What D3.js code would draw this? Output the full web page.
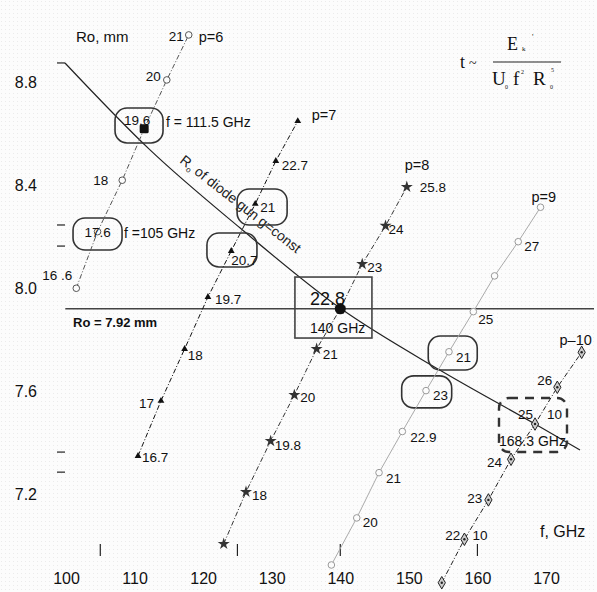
<!DOCTYPE html>
<html><head><meta charset="utf-8">
<script src="https://cdn.jsdelivr.net/npm/d3@7"></script>
<style>body{margin:0;background:#fff}svg{display:block}</style>
</head><body><svg id="c" width="597" height="592"></svg>
<script>
// ---------------- data ----------------
const xTicks = [100, 110, 120, 130, 140, 150, 160, 170];
const yTicks = [7.2, 7.6, 8.0, 8.4, 8.8];

const p6F = [101.5, 104.6, 108.2, 111.4, 114.7, 117.9];
const p6R = [8.00, 8.22, 8.42, 8.62, 8.81, 8.985];
const p6Lab = ["16 .6", "17.6", "18", "19.6", "20", "21"];

const p7F = [110.5, 113.85, 117.3, 120.7, 124.1, 127.6, 130.6, 133.8];
const p7R = [7.348, 7.562, 7.764, 7.966, 8.145, 8.328, 8.495, 8.65];
const p7Lab = ["16.7", "17", "18", "19.7", "20.7", "21", "22.7", ""];

const p8F = [123.0, 126.25, 129.85, 133.3, 136.55, 140.0, 143.2, 146.6, 149.7];
const p8R = [7.006, 7.208, 7.406, 7.585, 7.764, 7.92, 8.094, 8.243, 8.394];
const p8Lab = ["", "18", "19.8", "20", "21", "", "23", "24", "25.8"];

const p9F = [138.7, 142.4, 145.65, 149.05, 152.5, 155.85, 159.4, 162.5, 165.95, 169.2];
const p9R = [6.924, 7.107, 7.283, 7.443, 7.602, 7.753, 7.909, 8.048, 8.181, 8.315];
const p9Lab = ["", "20", "21", "22.9", "23", "21", "25", "", "27", ""];

const p10F = [154.8, 158.1, 161.6, 164.9, 168.4, 171.65, 175.2];
const p10R = [6.855, 7.024, 7.177, 7.335, 7.472, 7.615, 7.751];
const p10Lab = ["", "22", "23", "24", "25", "26", ""];
const p10Lab2 = ["", "10", "", "", "10", "", ""];

const seriesNames = ["p=6", "p=7", "p=8", "p=9", "p\u201310"];

// R0 of diode gun, g = const
const diodeF = [99.85, 112.25, 125.4, 139.96, 154.5, 168.4, 174.96];
const diodeR = [8.876, 8.538, 8.234, 7.923, 7.682, 7.472, 7.371];

const refRo = 7.92;
const refLineF = [99.9, 177.0];
const fMarks = [105, 125, 140, 160];
const rMarks = [8.876, 8.246, 8.164, 7.363, 7.285];

// ---------------- scales ----------------
const svg = d3.select("#c");
const W = 597, H = 592;
const x = d3.scaleLinear().domain([100, 170]).range([66, 546]);
const y = d3.scaleLinear().domain([7.2, 8.8]).range([494, 82.5]);

// background with faint dot texture
const defs = svg.append("defs");
const pat = defs.append("pattern").attr("id", "dots").attr("width", 4).attr("height", 4)
  .attr("patternUnits", "userSpaceOnUse");
pat.append("rect").attr("width", 4).attr("height", 4).attr("fill", "#fcfcfc");
pat.append("rect").attr("x", 1).attr("y", 1).attr("width", 1).attr("height", 1).attr("fill", "#ebebeb");
svg.append("rect").attr("width", W).attr("height", H).attr("fill", "url(#dots)");

const FONT = "Liberation Sans, Arial, sans-serif";

// ---------------- axes (labels only) ----------------
const xAxis = d3.axisBottom(x).tickValues(xTicks).tickSize(0).tickPadding(3).tickFormat(d3.format("d"));
const gx = svg.append("g").attr("transform", "translate(0,570)").call(xAxis);
gx.select(".domain").remove();
gx.selectAll("text").attr("font-family", FONT).attr("font-size", 16).attr("fill", "#111");

const yAxis = d3.axisLeft(y).tickValues(yTicks).tickSize(0).tickPadding(3).tickFormat(d3.format(".1f"));
const gy = svg.append("g").attr("transform", "translate(40,0)").call(yAxis);
gy.select(".domain").remove();
gy.selectAll("text").attr("font-family", FONT).attr("font-size", 16).attr("fill", "#111");

svg.append("text").attr("x", 76).attr("y", 42).attr("font-family", FONT).attr("font-size", 15)
  .attr("fill", "#111").text("Ro, mm");
svg.append("text").attr("x", 540).attr("y", 537).attr("font-family", FONT).attr("font-size", 16)
  .attr("fill", "#111").text("f, GHz");

// small marks
svg.append("g").selectAll("line").data(fMarks).join("line")
  .attr("x1", d => x(d)).attr("x2", d => x(d)).attr("y1", 544).attr("y2", 556)
  .attr("stroke", "#222").attr("stroke-width", 1.2);
svg.append("g").selectAll("line").data(rMarks).join("line")
  .attr("x1", 57).attr("x2", 65).attr("y1", d => y(d)).attr("y2", d => y(d))
  .attr("stroke", "#222").attr("stroke-width", 1.2);

// reference Ro line
svg.append("line").attr("x1", x(refLineF[0])).attr("x2", x(refLineF[1]))
  .attr("y1", y(refRo)).attr("y2", y(refRo)).attr("stroke", "#444").attr("stroke-width", 1.5);
svg.append("text").attr("x", 73).attr("y", 327).attr("font-family", FONT).attr("font-size", 13)
  .attr("font-weight", "bold").attr("fill", "#111").text("Ro = " + refRo + " mm");

// diode gun curve
const diode = diodeF.map((f, i) => [f, diodeR[i]]);
svg.append("path").datum(diode)
  .attr("d", d3.line().x(d => x(d[0])).y(d => y(d[1])).curve(d3.curveMonotoneX))
  .attr("fill", "none").attr("stroke", "#222").attr("stroke-width", 1.2);
const dt = svg.append("text").attr("font-family", FONT).attr("font-size", 14).attr("fill", "#222")
  .attr("transform", "translate(179,162) rotate(38)");
dt.append("tspan").text("R");
dt.append("tspan").attr("font-size", 8).attr("dy", 3).text("o");
dt.append("tspan").attr("dy", -3).text(" of diode gun g=const");

// ---------------- annotation shapes ----------------
const pills = [
  {f: 110.65, R: 8.633, w: 48, h: 35},
  {f: 104.6, R: 8.211, w: 49, h: 32},
  {f: 128.6, R: 8.316, w: 50, h: 36},
  {f: 124.2, R: 8.149, w: 50, h: 34},
  {f: 156.4, R: 7.748, w: 49, h: 34},
  {f: 152.6, R: 7.597, w: 50, h: 32}
];
svg.append("g").selectAll("rect").data(pills).join("rect")
  .attr("x", d => x(d.f) - d.w / 2).attr("y", d => y(d.R) - d.h / 2)
  .attr("width", d => d.w).attr("height", d => d.h).attr("rx", 12).attr("ry", 12)
  .attr("fill", "none").attr("stroke", "#333").attr("stroke-width", 1.6);
// 140 GHz box
svg.append("rect").attr("x", x(139.0) - 38.5).attr("y", y(7.925) - 30.5).attr("width", 77).attr("height", 61)
  .attr("fill", "none").attr("stroke", "#444").attr("stroke-width", 1.6);
// dashed bracket round 168.3 GHz
svg.append("rect").attr("x", 499).attr("y", 398).attr("width", 68).attr("height", 54).attr("rx", 10)
  .attr("fill", "none").attr("stroke", "#333").attr("stroke-width", 2.4).attr("stroke-dasharray", "9,7");

// ---------------- series ----------------
const series = [
  {F: p6F, R: p6R, L: p6Lab, mk: "circle", col: "#555", lcol: "#555", dash: "5,2,1,2"},
  {F: p7F, R: p7R, L: p7Lab, mk: "triangle", col: "#111", lcol: "#111", dash: "5,2,1,2"},
  {F: p8F, R: p8R, L: p8Lab, mk: "star", col: "#333", lcol: "#333", dash: "5,2,1,2"},
  {F: p9F, R: p9R, L: p9Lab, mk: "circle", col: "#999", lcol: "#aaa", dash: null},
  {F: p10F, R: p10R, L: p10Lab, mk: "diamond", col: "#222", lcol: "#222", dash: "5,2,1,2"}
];
// label placement: [dx, dy, anchor]
const labPos = [
  [[-4,-8,"end"],[0,5,"middle"],[-14,5,"end"],[-7,-4,"middle"],[-6,1,"end"],[-5,6,"end"]],
  [[4,6,"start"],[-7,7,"end"],[3,11,"start"],[7,7,"start"],[0,14,"start"],[5,8,"start"],[6,9,"start"],[0,0,"start"]],
  [[0,0,"start"],[6,8,"start"],[4,9,"start"],[6,7,"start"],[6,10,"start"],[0,0,"start"],[5,8,"start"],[3,8,"start"],[13,5,"start"]],
  [[0,0,"start"],[6,9,"start"],[7,10,"start"],[8,10,"start"],[7,9,"start"],[7,10,"start"],[5,12,"start"],[0,0,"start"],[6,9,"start"],[0,0,"start"]],
  [[0,0,"end"],[-4,1,"end"],[-6,3,"end"],[-9,8,"end"],[-2,-5,"end"],[-5,-2,"end"],[0,0,"end"]]
];
const namePos = [[10,7,"start"],[14,-1,"start"],[-2,-17,"start"],[-9,-5,"start"],[-6,-7,"middle"]];

series.forEach((s, si) => {
  const pts = s.F.map((f, i) => ({f, R: s.R[i], lab: s.L[i], i}));
  const g = svg.append("g");
  g.append("path").datum(pts)
    .attr("d", d3.line().x(d => x(d.f)).y(d => y(d.R)))
    .attr("fill", "none").attr("stroke", s.lcol).attr("stroke-width", 1)
    .attr("stroke-dasharray", s.dash);
  const mg = g.append("g").selectAll("g").data(pts).join("g")
    .attr("transform", d => `translate(${x(d.f)},${y(d.R)})`);
  if (s.mk === "circle") {
    mg.append("circle").attr("r", 3.3).attr("fill", "#fcfcfc").attr("stroke", s.col).attr("stroke-width", 1);
  } else if (s.mk === "triangle") {
    mg.append("path").attr("d", d3.symbol(d3.symbolTriangle, 20)).attr("fill", s.col);
  } else if (s.mk === "star") {
    mg.append("path").attr("d", d3.symbol(d3.symbolStar, 45)).attr("fill", s.col);
  } else {
    mg.append("path").attr("d", d3.symbol(d3.symbolDiamond, 45)).attr("fill", "#ccc").attr("stroke", s.col).attr("stroke-width", 1);
    mg.append("circle").attr("r", 1.2).attr("fill", s.col);
  }
  g.append("g").selectAll("text").data(pts.filter(d => d.lab)).join("text")
    .attr("x", d => x(d.f) + labPos[si][d.i][0]).attr("y", d => y(d.R) + labPos[si][d.i][1])
    .attr("text-anchor", d => labPos[si][d.i][2])
    .attr("font-family", FONT).attr("font-size", 13.5).attr("fill", "#111").text(d => d.lab);
  const last = pts[pts.length - 1];
  svg.append("text").attr("x", x(last.f) + namePos[si][0]).attr("y", y(last.R) + namePos[si][1])
    .attr("text-anchor", namePos[si][2]).attr("font-family", FONT).attr("font-size", 14.5)
    .attr("fill", "#111").text(seriesNames[si]);
});
// second labels (p=10 "10")
svg.append("g").selectAll("text").data(p10F.map((f, i) => ({f, R: p10R[i], t: p10Lab2[i], i})).filter(d => d.t))
  .join("text").attr("x", d => x(d.f) + (d.i === 1 ? 8 : 12)).attr("y", d => y(d.R) + (d.i === 1 ? 1 : -5))
  .attr("font-family", FONT).attr("font-size", 13.5).attr("fill", "#111").text(d => d.t);

// highlighted points
svg.append("rect").attr("x", x(p6F[3]) - 4.5).attr("y", y(p6R[3]) - 4.5).attr("width", 9).attr("height", 9)
  .attr("rx", 1.5).attr("fill", "#111");
svg.append("circle").attr("cx", x(p8F[5])).attr("cy", y(p8R[5])).attr("r", 5.5).attr("fill", "#111");

// annotation texts
const ann = (tx, ty, t, fs) => svg.append("text").attr("x", tx).attr("y", ty).attr("font-family", FONT)
  .attr("font-size", fs).attr("fill", "#111").text(t);
ann(166, 127, "f = 111.5 GHz", 14);
ann(124, 238, "f =105 GHz", 14);
ann(310, 305, "22.8", 18);
ann(310, 333, "140 GHz", 14);
ann(499, 446, "168.3 GHz", 14);

// formula
const SERIF = "Liberation Serif, Times New Roman, serif";
const ft = (tx, ty, t, fs) => svg.append("text").attr("x", tx).attr("y", ty).attr("font-family", SERIF)
  .attr("font-size", fs).attr("fill", "#111").text(t);
ft(460, 68, "t", 18);
ft(469, 68, "~", 14);
svg.append("line").attr("x1", 493).attr("x2", 561).attr("y1", 62).attr("y2", 62).attr("stroke", "#222").attr("stroke-width", 1);
ft(507, 50, "E", 18);
ft(522, 51, "k", 7);
ft(532, 40, "'", 8);
ft(492, 85, "U", 19);
ft(505, 89, "0", 6);
ft(513, 85, "f", 19);
ft(521, 74, "2", 6);
ft(533, 85, "R", 19);
ft(550, 89, "0", 6);
ft(551, 72, "5", 6);
</script></body></html>
